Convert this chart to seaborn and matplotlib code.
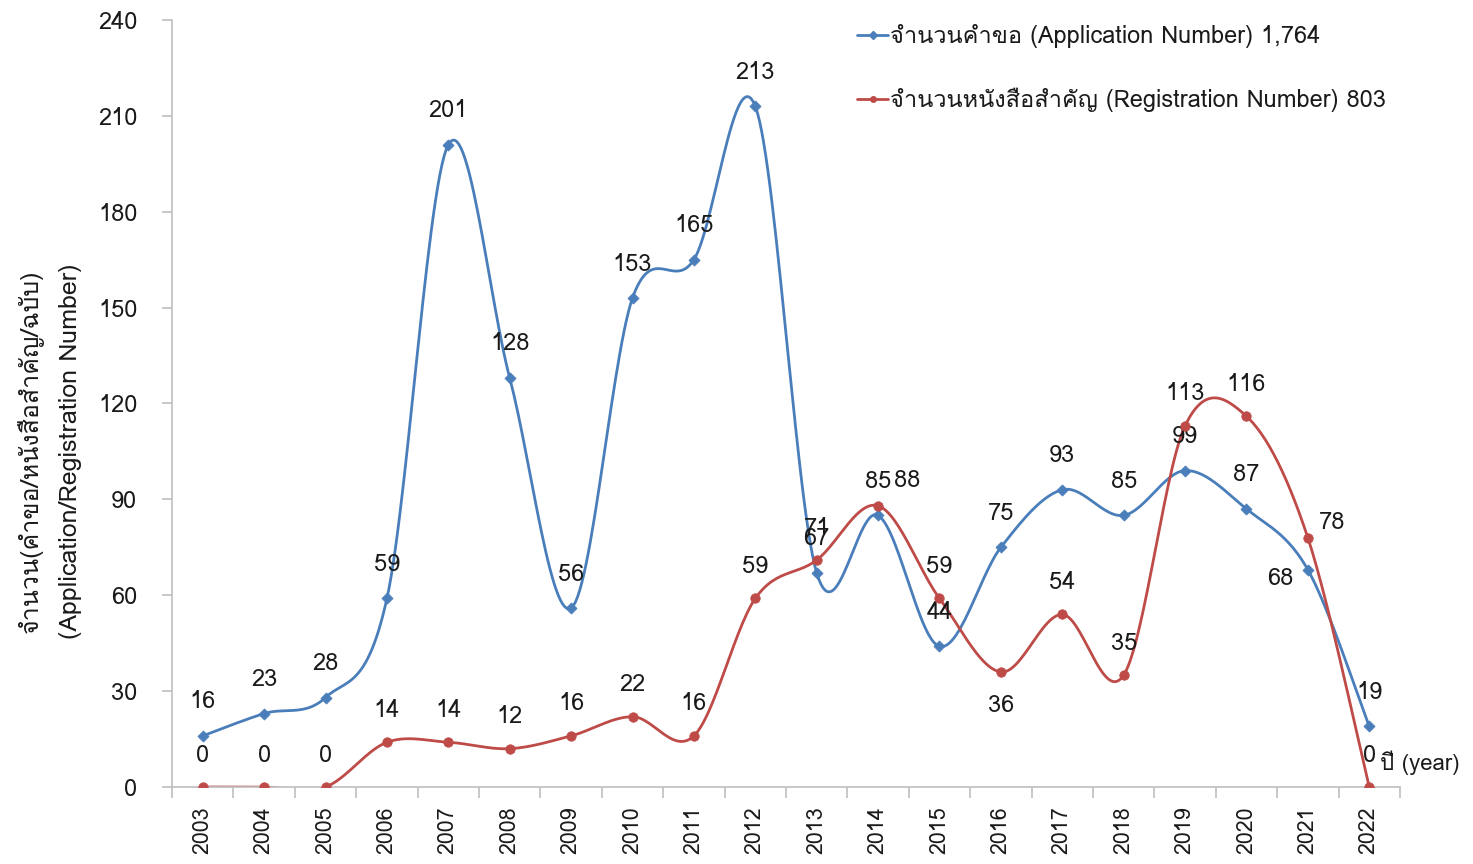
import matplotlib
matplotlib.use("Agg")
import numpy as np
import pandas as pd
import matplotlib.pyplot as plt
import seaborn as sns
from matplotlib import font_manager
from matplotlib.ft2font import FT2Font
from matplotlib.lines import Line2D

# --- data ---
years = [2003, 2004, 2005, 2006, 2007, 2008, 2009, 2010, 2011, 2012,
         2013, 2014, 2015, 2016, 2017, 2018, 2019, 2020, 2021, 2022]
applications = [16, 23, 28, 59, 201, 128, 56, 153, 165, 213,
                67, 85, 44, 75, 93, 85, 99, 87, 68, 19]
registrations = [0, 0, 0, 14, 14, 12, 16, 22, 16, 59,
                 71, 88, 59, 36, 54, 35, 113, 116, 78, 0]
app_label = "จำนวนคำขอ (Application Number) 1,764"
reg_label = "จำนวนหนังสือสำคัญ (Registration Number) 803"
ylabel = "จำนวน(คำขอ/หนังสือสำคัญ/ฉบับ)\n(Application/Registration Number)"
xlabel = "ปี (year)"
yticks = [0, 30, 60, 90, 120, 150, 180, 210, 240]

# label offsets in pixels (dx, dy); default is straight above the point
app_offsets = {18: (-28, -9)}
reg_offsets = {11: (29, 25), 13: (0, -34), 18: (24, 15)}

BLUE = "#4A7EBB"
RED = "#BE4B48"
TXT = "#1a1a1a"


def find_thai_font():
    for f in font_manager.fontManager.ttflist:
        try:
            cmap = FT2Font(f.fname).get_charmap()
        except Exception:
            continue
        if 0x0E08 in cmap and 0x0E33 in cmap:
            return f.name
    return None


def smooth(xs, ys, n=30):
    # Excel-style smoothed line: cubic Bezier, control points at 1/6 of neighbour spread
    xs = np.asarray(xs, float)
    ys = np.asarray(ys, float)
    pts = np.column_stack([xs, ys])
    out = []
    t = np.linspace(0, 1, n)[:, None]
    for i in range(len(pts) - 1):
        p0 = pts[i]
        p3 = pts[i + 1]
        pm = pts[i - 1] if i > 0 else pts[i]
        pp = pts[i + 2] if i + 2 < len(pts) else pts[i + 1]
        c1 = p0 + (p3 - pm) / 6
        c2 = p3 - (pp - p0) / 6
        seg = ((1 - t) ** 3) * p0 + 3 * ((1 - t) ** 2) * t * c1 + 3 * (1 - t) * t ** 2 * c2 + t ** 3 * p3
        out.append(seg if i == 0 else seg[1:])
    out = np.vstack(out)
    return out[:, 0], out[:, 1]


sns.set_theme(style="white")
thai = find_thai_font()
plt.rcParams["font.family"] = [thai, "DejaVu Sans"] if thai else ["DejaVu Sans"]

fig = plt.figure(figsize=(14.73, 8.64), dpi=100)
ax = fig.add_axes([0.1168, 0.0891, 0.8336, 0.8878])

idx = np.arange(len(years))
for values, color, marker, ms in [(applications, BLUE, "D", 5), (registrations, RED, "o", 6)]:
    sx, sy = smooth(idx, values)
    curve = pd.DataFrame({"x": sx, "y": sy})
    sns.lineplot(data=curve, x="x", y="y", sort=False, estimator=None,
                 color=color, linewidth=2.0, ax=ax)
    pts = pd.DataFrame({"x": idx, "y": values})
    sns.scatterplot(data=pts, x="x", y="y", color=color, marker=marker, s=ms ** 2 * 1.3,
                    edgecolor=color, linewidth=0.5, ax=ax, zorder=4)

for i, v in enumerate(applications):
    dx, dy = app_offsets.get(i, (0, 34))
    ax.annotate(str(v), (i, v), xytext=(dx, dy), textcoords="offset pixels",
                ha="center", va="center", fontsize=17, color=TXT)
for i, v in enumerate(registrations):
    dx, dy = reg_offsets.get(i, (0, 32))
    ax.annotate(str(v), (i, v), xytext=(dx, dy), textcoords="offset pixels",
                ha="center", va="center", fontsize=17, color=TXT)

ax.set_xlim(-0.5, len(years) - 0.5)
ax.set_ylim(0, 240)
ax.set_yticks(yticks)
ax.set_yticklabels([str(v) for v in yticks], fontsize=17, color=TXT)
ax.set_xticks(idx)
ax.set_xticklabels([str(y) for y in years], rotation=90, fontsize=15.5, color=TXT)
ax.set_xticks(np.arange(-0.5, len(years), 1.0), minor=True)
ax.tick_params(axis="x", which="major", length=0, pad=14)
ax.tick_params(axis="x", which="minor", length=8, color="#BFBFBF", width=1.2, bottom=True)
ax.tick_params(axis="y", length=7, color="#BFBFBF", width=1.2, left=True, pad=18)
ax.set_xlabel("")
ax.set_ylabel(ylabel, fontsize=18, linespacing=1.85, color=TXT)
ax.yaxis.set_label_coords(-0.073, 0.438)

for side in ["top", "right"]:
    ax.spines[side].set_visible(False)
for side in ["left", "bottom"]:
    ax.spines[side].set_color("#BFBFBF")
    ax.spines[side].set_linewidth(1.2)

ax.text(0.984, 0.031, xlabel, transform=ax.transAxes, fontsize=16, ha="left", va="center", color=TXT)

handles = [Line2D([], [], color=BLUE, marker="D", markersize=4, linewidth=2.0),
           Line2D([], [], color=RED, marker="o", markersize=4, linewidth=2.0)]
fig.legend(handles, [app_label, reg_label], loc="upper left",
           bbox_to_anchor=(0.5675, 0.997), frameon=False, fontsize=17,
           handlelength=1.3, handletextpad=0.1, labelspacing=1.7, labelcolor=TXT)

fig.savefig("out.png", dpi=100)
